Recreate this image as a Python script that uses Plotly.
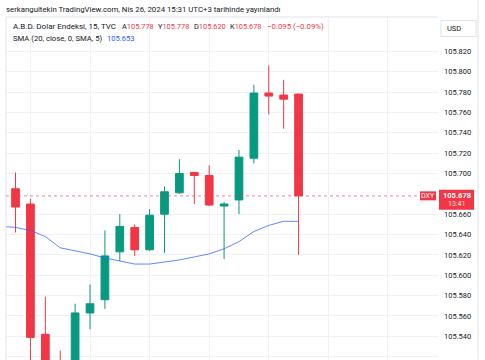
import plotly.graph_objects as go
import pandas as pd

# ---- data (15-minute candles, TVC:DXY, 26 Apr 2024) ----
times = pd.date_range("2024-04-26 10:45", periods=20, freq="15min")
opens  = [105.685, 105.670, 105.542, 105.515, 105.490, 105.563, 105.576, 105.623, 105.647, 105.625,
          105.660, 105.681, 105.701, 105.698, 105.668, 105.674, 105.715, 105.779, 105.777, 105.778]
highs  = [105.701, 105.675, 105.579, 105.526, 105.572, 105.591, 105.644, 105.660, 105.650, 105.665,
          105.687, 105.714, 105.701, 105.708, 105.672, 105.723, 105.787, 105.806, 105.792, 105.778]
lows   = [105.642, 105.500, 105.480, 105.480, 105.480, 105.547, 105.567, 105.614, 105.619, 105.624,
          105.622, 105.680, 105.670, 105.668, 105.616, 105.660, 105.710, 105.758, 105.744, 105.620]
closes = [105.667, 105.539, 105.500, 105.490, 105.563, 105.572, 105.619, 105.648, 105.625, 105.659,
          105.682, 105.700, 105.698, 105.669, 105.670, 105.716, 105.779, 105.776, 105.773, 105.678]

sma_times = pd.date_range("2024-04-26 10:30", periods=21, freq="15min")
sma_vals = [105.648, 105.647, 105.644, 105.638, 105.627, 105.624, 105.621, 105.617, 105.614, 105.611,
            105.611, 105.613, 105.615, 105.618, 105.621, 105.626, 105.633, 105.643, 105.649, 105.653,
            105.653]

last_price = 105.678
# 105.680 is hidden behind the last-price label in the original
y_ticks = [105.52, 105.54, 105.56, 105.58, 105.60, 105.62, 105.64, 105.66,
           105.70, 105.72, 105.74, 105.76, 105.78, 105.80, 105.82]
header = "serkangultekin TradingView.com, Nis 26, 2024 15:31 UTC+3 tarihinde yayınlandı"
ohlc_labels = [("A", "105.778"), ("Y", "105.778"), ("D", "105.620"), ("K", "105.678")]
change_text = "−0.095 (−0.09%)"
sma_text = "105.653"

GREEN = "#089981"
RED = "#F23645"
BLUE = "#2962FF"
TXT = "#131722"
FONT = "Roboto"

W, H = 485, 360
L, R, T, B = 6, 47, 17, 0
PW, PH = W - L - R, H - T - B

def px(x):
    return (x - L) / PW

def py(y):
    return (H - B - y) / PH

fig = go.Figure()
fig.add_trace(go.Candlestick(
    x=times, open=opens, high=highs, low=lows, close=closes,
    increasing=dict(line=dict(color=GREEN, width=1), fillcolor=GREEN),
    decreasing=dict(line=dict(color=RED, width=1), fillcolor=RED),
    whiskerwidth=0, hoverinfo="skip", showlegend=False,
))
fig.add_trace(go.Scatter(
    x=sma_times, y=sma_vals, mode="lines",
    line=dict(color=BLUE, width=1), opacity=0.75, hoverinfo="skip", showlegend=False,
))

x0 = pd.Timestamp("2024-04-26 10:45") - pd.Timedelta(minutes=15 * 0.64)
x1 = pd.Timestamp("2024-04-26 10:45") + pd.Timedelta(minutes=15 * 28.36)

fig.update_layout(
    width=W, height=H,
    margin=dict(l=L, r=R, t=T, b=B, autoexpand=False),
    paper_bgcolor="white", plot_bgcolor="white",
    boxgap=0.26,
    font=dict(family=FONT, size=8, color=TXT),
    xaxis=dict(
        type="date", range=[x0, x1], rangeslider=dict(visible=False),
        showticklabels=False, showgrid=True, gridcolor="#f0f1f3", gridwidth=1,
        tick0="2024-04-26 11:00", dtick=3600000, zeroline=False, showline=False,
        fixedrange=True, automargin=False,
    ),
    yaxis=dict(
        range=[105.82 - (H - 51.3) / 1018, 105.82 + (51.3 - T) / 1018],
        side="right", tickvals=y_ticks, ticktext=[f"{v:.3f}" for v in y_ticks],
        showgrid=True, gridcolor="#f0f1f3", gridwidth=1, zeroline=False,
        showline=False, ticks="", ticklabelstandoff=5, automargin=False,
        tickfont=dict(family=FONT, size=7.5, color=TXT), fixedrange=True,
    ),
)

shapes = []
# pane borders
shapes.append(dict(type="line", xref="paper", yref="paper", x0=px(6), x1=px(438), y0=py(17), y1=py(17),
                   line=dict(color="#e0e3eb", width=1)))
shapes.append(dict(type="line", xref="paper", yref="paper", x0=px(6), x1=px(6), y0=py(17), y1=py(360),
                   line=dict(color="#e0e3eb", width=1)))
shapes.append(dict(type="line", xref="paper", yref="paper", x0=px(478), x1=px(478), y0=py(0), y1=py(360),
                   line=dict(color="#e0e3eb", width=1)))
# USD box
shapes.append(dict(type="rect", xref="paper", yref="paper", x0=px(441), x1=px(476), y0=py(20.5), y1=py(36.5),
                   line=dict(color="#e0e3eb", width=1), fillcolor="white"))
# last price dotted line
shapes.append(dict(type="line", xref="paper", yref="y", x0=px(6), x1=px(420), y0=last_price, y1=last_price,
                   line=dict(color=RED, width=1, dash="dot"), opacity=0.6))
# DXY label box
ly = 51.3 + (105.82 - last_price) * 1018
shapes.append(dict(type="rect", xref="paper", yref="paper", x0=px(420), x1=px(436), y0=py(ly + 4.5), y1=py(ly - 4.5),
                   line=dict(width=0), fillcolor=RED))
# price label box
shapes.append(dict(type="rect", xref="paper", yref="paper", x0=px(439), x1=px(474), y0=py(ly + 14), y1=py(ly - 6),
                   line=dict(width=0), fillcolor=RED))
fig.update_layout(shapes=shapes)

ann = []
def text(x, y, s, size=7.5, color=TXT, xanchor="left"):
    ann.append(dict(xref="paper", yref="paper", x=px(x), y=py(y), text=s, showarrow=False,
                    xanchor=xanchor, yanchor="middle", borderpad=0,
                    font=dict(family=FONT, size=size, color=color)))

text(5, 9.5, header, size=7.8)
text(11.5, 26.5, "A.B.D. Dolar Endeksi, 15, TVC", size=8)
for xpos, (lab, val) in zip([120.5, 156.5, 192.5, 229], ohlc_labels):
    text(xpos, 26.5, f"{lab}<span style='color:{RED}'>{val}</span>", size=7.4)
text(265.5, 26.5, change_text, size=7.8, color=RED)
text(11.5, 38.5, "SMA (20, close, 0, SMA, 5)", size=7.7)
text(106, 38.5, sma_text, size=7.6, color=BLUE)
text(446, 28.5, "USD")
text(428, ly, "DXY", size=7, color="white", xanchor="center")
text(456.5, ly - 0.5, "<b>105.678</b>", size=7.5, color="white", xanchor="center")
text(456.5, ly + 8.5, "13:41", size=7, color="#ffe0e3", xanchor="center")
fig.update_layout(annotations=ann)

fig.write_html("out.html", config={"displayModeBar": False, "staticPlot": True},
               post_script="document.body.style.margin='0';document.body.style.overflow='hidden';")
